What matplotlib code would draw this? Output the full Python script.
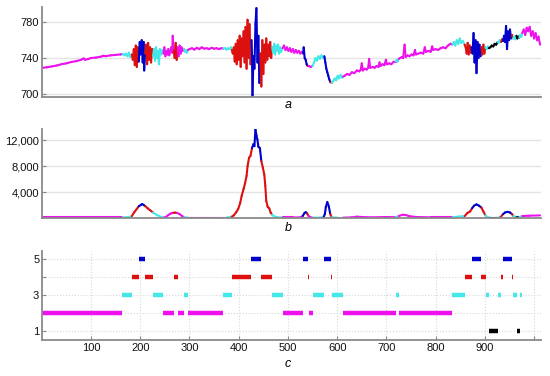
import matplotlib
matplotlib.use('Agg')
import matplotlib.pyplot as plt
from matplotlib.collections import LineCollection
import numpy as np

plt.rcParams['font.family'] = ['Liberation Sans', 'DejaVu Sans']

# state colours: 1 black, 2 magenta, 3 cyan, 4 red, 5 blue
state_colors = {1: '#000000', 2: '#ee11ee', 3: '#44e8e8', 4: '#dd1010', 5: '#0000cc'}

# state segments (start, end, state)
segments = [
    (1, 164, 2), (164, 183, 3), (183, 197, 4), (197, 210, 5), (210, 226, 4),
    (226, 247, 3), (247, 268, 2), (268, 277, 4), (277, 289, 2), (289, 297, 3),
    (297, 369, 2), (369, 386, 3), (386, 426, 4), (426, 445, 5), (445, 468, 4),
    (468, 489, 3), (489, 531, 2), (531, 540, 5), (540, 543, 4), (543, 550, 2),
    (550, 573, 3), (573, 587, 5), (587, 590, 4), (590, 612, 3), (612, 719, 2),
    (719, 725, 3), (725, 834, 2), (834, 859, 3), (859, 873, 4), (873, 893, 5),
    (893, 902, 4), (902, 908, 3), (908, 926, 1), (926, 933, 3), (933, 937, 4),
    (937, 955, 5), (955, 958, 4), (958, 965, 3), (965, 971, 1), (971, 976, 3),
]
tail_state = 2  # after the last segment (not shown in panel c)

# panel a series (x, value)
a_points = [
    (1, 729), (10, 729.5), (20, 730.5), (30, 731.5), (40, 733), (50, 734), (60, 735.5),
    (70, 736.5), (80, 738), (85, 739.5), (88, 738), (95, 739), (100, 740), (110, 740.5),
    (120, 741.5), (125, 742.5), (130, 742), (140, 743), (150, 743.5), (160, 744), (164, 744.5),
    (168, 743), (171, 745), (174, 742), (177, 746), (180, 741), (183, 744),
    (185, 738), (187, 750), (189, 732), (191, 754), (193, 730), (195, 752), (197, 736),
    (199, 758), (201, 744), (203, 760), (205, 735), (207, 758), (208, 726), (210, 745),
    (212, 755), (214, 733), (216, 757), (218, 738), (220, 752), (222, 735), (224, 750), (226, 742),
    (228, 750), (230, 737), (232, 752), (234, 740), (236, 748), (238, 733), (240, 750),
    (242, 744), (244, 749), (247, 745),
    (249, 752), (251, 742), (253, 748), (255, 744), (257, 750), (259, 743), (261, 748),
    (263, 752), (265, 746), (266, 765), (268, 748),
    (270, 740), (272, 757), (274, 738), (276, 752),
    (278, 742), (280, 754), (282, 745), (284, 752), (286, 748), (289, 750),
    (291, 747), (293, 749), (295, 746), (297, 749),
    (300, 750), (305, 751), (310, 749.5), (315, 751.5), (320, 750), (325, 752), (330, 750.5),
    (335, 751), (340, 750), (345, 751.5), (350, 750.5), (355, 751), (360, 750), (365, 751), (369, 750.5),
    (372, 751), (375, 749.5), (378, 751), (381, 750), (384, 752), (386, 749),
    (388, 745), (390, 752), (392, 736), (394, 756), (396, 733), (398, 760), (400, 738),
    (402, 765), (404, 730), (406, 762), (408, 742), (410, 770), (412, 735), (414, 775),
    (416, 728), (418, 783), (420, 740), (422, 778), (424, 733), (426, 760),
    (427, 745), (428, 697), (430, 742), (432, 728), (434, 778), (436, 796), (438, 735),
    (440, 765), (442, 712), (444, 745),
    (446, 708), (448, 760), (450, 722), (452, 755), (454, 735), (456, 762), (458, 738),
    (460, 755), (462, 742), (464, 758), (466, 740), (468, 752),
    (470, 746), (472, 756), (474, 744), (476, 754), (478, 748), (480, 755), (482, 745),
    (484, 752), (486, 747), (489, 751),
    (492, 754), (495, 749), (498, 752), (501, 748), (504, 751), (507, 747), (510, 750),
    (513, 746), (516, 749), (519, 746), (522, 748), (525, 745), (528, 747), (531, 745),
    (532, 752), (534, 740), (536, 738), (538, 733), (540, 731),
    (542, 731), (546, 730), (550, 731),
    (553, 735), (556, 740), (559, 737), (562, 742), (565, 739), (568, 743), (571, 740),
    (574, 742), (576, 735), (578, 728), (580, 724), (582, 720), (584, 716), (586, 713),
    (589, 712),
    (592, 714), (595, 717), (598, 715), (601, 720), (604, 717), (607, 721), (610, 718), (612, 719),
    (615, 720), (620, 722), (625, 721), (630, 724), (635, 723), (640, 726), (645, 725),
    (648, 727), (650, 734), (652, 726), (656, 728), (660, 727), (663, 729), (665, 739),
    (667, 729), (672, 730), (676, 729), (680, 731), (684, 730), (686, 735), (688, 731),
    (692, 733), (696, 732), (699, 738), (701, 733), (706, 734), (710, 733), (715, 736), (719, 736),
    (721, 738), (723, 736), (725, 739),
    (728, 740), (731, 741), (734, 740), (737, 755), (739, 741), (743, 743), (747, 742),
    (751, 744), (755, 743), (758, 749), (760, 744), (765, 745), (770, 746), (775, 745),
    (778, 752), (780, 747), (785, 748), (790, 747), (793, 753), (795, 749), (800, 750),
    (805, 749), (810, 751), (815, 752), (820, 751), (825, 754), (830, 756), (834, 755),
    (837, 758), (840, 754), (843, 760), (846, 756), (849, 762), (852, 757), (855, 759), (859, 755),
    (861, 752), (863, 745), (865, 757), (867, 744), (869, 754), (871, 746), (873, 752),
    (875, 745), (877, 768), (879, 735), (881, 760), (883, 723), (885, 758), (887, 740),
    (889, 755), (891, 742), (893, 752),
    (895, 744), (897, 755), (899, 745), (901, 752),
    (904, 750), (906, 753), (908, 751),
    (911, 752), (914, 754), (917, 753), (920, 756), (923, 755), (926, 758),
    (928, 757), (930, 760), (933, 758),
    (935, 761), (937, 759),
    (939, 765), (941, 758), (943, 776), (945, 750), (947, 770), (949, 760), (951, 772),
    (953, 762), (955, 766),
    (957, 762),
    (960, 764), (962, 761), (964, 765),
    (966, 762), (968, 764), (970, 763),
    (972, 766), (974, 764), (976, 768),
    (979, 772), (982, 766), (985, 774), (988, 770), (991, 775), (994, 765), (997, 770),
    (1000, 762), (1003, 768), (1006, 760), (1009, 764), (1012, 755),
]

# panel b series (x, value)
b_points = [
    (1, 80), (50, 80), (100, 80), (150, 80), (164, 80), (170, 100), (178, 150), (183, 300),
    (188, 900), (193, 1400), (197, 1800), (201, 2000), (204, 2150), (208, 1950), (210, 1850),
    (215, 1500), (220, 1200), (226, 850), (232, 550), (238, 300), (244, 100), (247, 50),
    (252, 150), (257, 450), (262, 700), (267, 800), (271, 830), (275, 780), (280, 600),
    (285, 300), (289, 100), (297, 60), (330, 60), (369, 60), (375, 60), (386, 200),
    (390, 400), (395, 900), (399, 1400), (403, 2300), (406, 3400), (410, 4500), (413, 5400),
    (416, 6500), (418, 8000), (421, 9300), (424, 9600), (427, 10800), (430, 11400),
    (432, 11100), (434, 13700), (436, 12800), (438, 12100), (440, 11000), (443, 10800),
    (446, 8800), (449, 7800), (452, 6700), (454, 5000), (456, 2600), (459, 1700),
    (462, 1500), (465, 800), (468, 500), (471, 300), (478, 100), (489, 80), (510, 80),
    (525, 100), (530, 300), (533, 700), (536, 900), (539, 700), (542, 300), (546, 100),
    (550, 50), (565, 60), (572, 80), (575, 600), (577, 1700), (580, 2450), (583, 1800),
    (586, 600), (589, 100), (600, 50), (612, 50), (630, 100), (640, 200), (650, 150),
    (670, 100), (700, 150), (719, 120), (725, 300), (733, 500), (740, 450), (745, 300),
    (760, 150), (790, 100), (834, 100), (845, 200), (859, 300), (865, 800), (870, 1000),
    (874, 1500), (878, 1900), (883, 2100), (888, 1900), (893, 1600), (897, 1000),
    (901, 400), (905, 150), (910, 50), (926, 50), (932, 150), (937, 600), (941, 850),
    (946, 950), (951, 850), (955, 600), (958, 300), (964, 100), (970, 150), (976, 300),
    (990, 350), (1012, 400),
]

a_yticks = [700, 740, 780]
b_yticks = [4000, 8000, 12000]
c_yticks = [1, 2, 3, 4, 5]
c_ylabels = ['1', '', '3', '', '5']
c_xticks = [100, 200, 300, 400, 500, 600, 700, 800, 900, 1000]
c_xlabels = ['100', '200', '300', '400', '500', '600', '700', '800', '900', '']
panel_labels = ['a', 'b', 'c']


def state_at(x):
    for s, e, st in segments:
        if s <= x < e:
            return st
    return tail_state


def colored_line(ax, pts, lw):
    arr = np.array(pts, dtype=float)
    segs = np.stack([arr[:-1], arr[1:]], axis=1)
    cols = [state_colors[state_at((p0[0] + p1[0]) / 2)] for p0, p1 in segs]
    lc = LineCollection(segs, colors=cols, linewidths=lw, capstyle='round', joinstyle='round')
    ax.add_collection(lc)


fig = plt.figure(figsize=(5.5, 3.76), dpi=100)
L, W = 42 / 550, 499 / 550
ax_a = fig.add_axes([L, 0.7428, W, 0.2378])
ax_b = fig.add_axes([L, 0.4194, W, 0.2378])
ax_c = fig.add_axes([L, 0.0957, W, 0.2375])

spine_col = '#8a8a8a'
for ax in (ax_a, ax_b, ax_c):
    for s in ('top', 'right'):
        ax.spines[s].set_visible(False)
    for s in ('left', 'bottom'):
        ax.spines[s].set_color(spine_col)
        ax.spines[s].set_linewidth(1.3)
    ax.tick_params(direction='in', color=spine_col, length=3, labelsize=8, labelcolor='#111111', pad=2)
    ax.set_xlim(0.5, 1014)
    ax.set_axisbelow(True)

# panel a
colored_line(ax_a, a_points, 1.5)
ax_a.set_ylim(696.5, 797)
ax_a.set_yticks(a_yticks)
ax_a.set_xticks([])
ax_a.grid(axis='y', color='#e4e4e4', lw=1)

# panel b
colored_line(ax_b, b_points, 1.5)
ax_b.set_ylim(-50, 13760)
ax_b.set_yticks(b_yticks)
ax_b.set_yticklabels([f'{v:,}' for v in b_yticks])
ax_b.set_xticks([])
ax_b.grid(axis='y', color='#e4e4e4', lw=1)

# panel c
for s, e, st in segments:
    ax_c.hlines(st, s, e, colors=state_colors[st], linewidth=3.2)
ax_c.set_ylim(0.5, 5.48)
ax_c.set_yticks(c_yticks)
ax_c.set_yticklabels(c_ylabels)
ax_c.set_xticks(c_xticks)
ax_c.set_xticklabels(c_xlabels)
ax_c.grid(True, color='#d8d8d8', lw=0.8, linestyle=':')

for lab, yy in zip(panel_labels, [105, 228, 364]):
    fig.text(288 / 550, 1 - yy / 376, lab, style='italic', ha='center', va='center', fontsize=9)

fig.savefig('out.png', dpi=100)
